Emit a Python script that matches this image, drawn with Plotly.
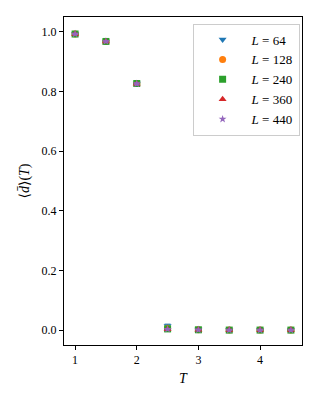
import plotly.graph_objects as go

T = [1.0, 1.5, 2.0, 2.5, 3.0, 3.5, 4.0, 4.5]
d64 = [0.993, 0.968, 0.827, 0.014, 0.002, 0.000, 0.000, 0.000]
d128 = [0.993, 0.968, 0.827, 0.006, 0.001, 0.000, 0.000, 0.000]
d240 = [0.993, 0.968, 0.827, 0.004, 0.001, 0.000, 0.000, 0.000]
d360 = [0.993, 0.968, 0.826, 0.003, 0.001, 0.000, 0.000, 0.000]
d440 = [0.993, 0.968, 0.826, 0.003, 0.001, 0.000, 0.000, 0.000]
err64 = [0.002, 0.002, 0.003, 0.006, 0.001, 0.0005, 0.0005, 0.0005]
err128 = [0.002, 0.002, 0.003, 0.003, 0.001, 0.0005, 0.0005, 0.0005]
err240 = [0.002, 0.002, 0.003, 0.002, 0.001, 0.0005, 0.0005, 0.0005]
err360 = [0.002, 0.002, 0.003, 0.002, 0.001, 0.0005, 0.0005, 0.0005]
err440 = [0.002, 0.002, 0.003, 0.002, 0.001, 0.0005, 0.0005, 0.0005]
labels = ["<i>L</i> = 64", "<i>L</i> = 128", "<i>L</i> = 240", "<i>L</i> = 360", "<i>L</i> = 440"]

series = [d64, d128, d240, d360, d440]
errs = [err64, err128, err240, err360, err440]
colors = ["#1f77b4", "#ff7f0e", "#2ca02c", "#d62728", "#9467bd"]
symbols = ["triangle-down", "circle", "square", "triangle-up", "star"]
sizes = [7, 7, 7, 7, 6]

fig = go.Figure()
for y, e, c, s, sz, lab in zip(series, errs, colors, symbols, sizes, labels):
    fig.add_trace(go.Scatter(
        x=T, y=y, mode="markers", name=lab,
        marker=dict(symbol=s, color=c, size=sz, line=dict(width=0)),
        error_y=dict(type="data", array=e, visible=True, color=c, thickness=1, width=3),
    ))

font_family = "Liberation Serif, DejaVu Serif, serif"
fig.update_layout(
    width=312, height=392,
    margin=dict(l=56, r=18, t=9, b=55, autoexpand=False),
    paper_bgcolor="white", plot_bgcolor="white",
    font=dict(family=font_family, size=12, color="black"),
    showlegend=True,
    legend=dict(
        x=0.99, y=0.98, xanchor="right", yanchor="top",
        bgcolor="rgba(255,255,255,0.8)", bordercolor="#cccccc", borderwidth=1,
        font=dict(size=13), itemsizing="trace", itemwidth=48, tracegroupgap=0,
    ),
    xaxis=dict(
        range=[0.82, 4.68], tickvals=[1, 2, 3, 4], ticktext=["1", "2", "3", "4"],
        showgrid=False, zeroline=False, showline=True, linecolor="black", linewidth=1,
        mirror=True, ticks="outside", ticklen=4, tickcolor="black", automargin=False,
        title=dict(text="<i>T</i>", standoff=6),
    ),
    yaxis=dict(
        range=[-0.05, 1.05], tickvals=[0, 0.2, 0.4, 0.6, 0.8, 1.0],
        ticktext=["0.0", "0.2", "0.4", "0.6", "0.8", "1.0"],
        showgrid=False, zeroline=False, showline=True, linecolor="black", linewidth=1,
        mirror=True, ticks="outside", ticklen=4, tickcolor="black", automargin=False,
        title=dict(text="⟨<i>d̄</i>⟩(<i>T</i>)", standoff=8),
    ),
)
fig.write_html("out.html")
